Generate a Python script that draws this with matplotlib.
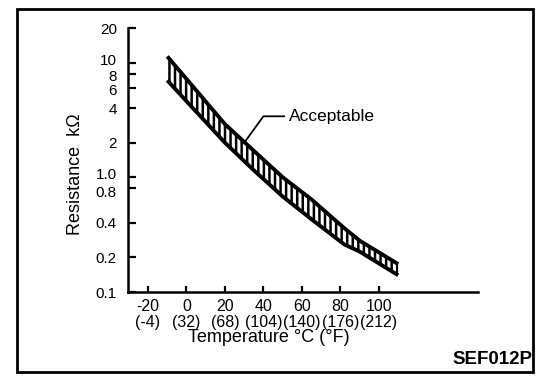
import matplotlib
matplotlib.use('Agg')
import matplotlib.pyplot as plt
from matplotlib.patches import Rectangle
from matplotlib.transforms import ScaledTranslation

# acceptable resistance band of the sensor
temp_c = [-10, 0, 20, 35, 50, 65, 82, 90, 110]
r_upper = [11.3, 7.2, 2.9, 1.7, 1.0, 0.64, 0.36, 0.28, 0.175]
r_lower = [7.0, 4.6, 2.0, 1.15, 0.68, 0.43, 0.26, 0.225, 0.14]

x_ticks = [-20, 0, 20, 40, 60, 80, 100]
x_labels = ['-20\n(-4)', '0\n(32)', '20\n(68)', '40\n(104)', '60\n(140)', '80\n(176)', '100\n(212)']
y_ticks = [0.1, 0.2, 0.4, 0.8, 1.0, 2, 4, 6, 8, 10, 20]
y_labels = ['0.1', '0.2', '0.4', '0.8', '1.0', '2', '4', '6', '8', '10', '20']
# small vertical nudges (points) so the crowded labels stack like the print
y_nudge = {'10': 2, '8': -1, '6': -1, '1.0': 2.5, '0.8': -2.5}

plt.rcParams['font.family'] = ['Liberation Sans', 'DejaVu Sans']
plt.rcParams['hatch.linewidth'] = 1.8

fig = plt.figure(figsize=(5.6, 3.82), dpi=100)
fig.patch.set_facecolor('white')

# outer frame
fig.patches.append(Rectangle((17/560, 1-372/382), (533-17)/560, (372-9)/382,
                             transform=fig.transFigure, fill=False, lw=2.0, ec='black'))

ax = fig.add_axes([128/560, 1-292/382, 350/560, 264/382])
ax.set_yscale('log')
ax.set_xlim(-30.4, 151.5)
ax.set_ylim(0.1, 20)

ax.fill_between(temp_c, r_lower, r_upper, facecolor='white', edgecolor='black',
                hatch='|||', lw=0)
ax.plot(temp_c, r_upper, color='black', lw=2.8, solid_capstyle='butt')
ax.plot(temp_c, r_lower, color='black', lw=2.8, solid_capstyle='butt')

ax.annotate('Acceptable', xy=(30, 2.0), xytext=(53, 3.4), fontsize=12.5,
            ha='left', va='center',
            arrowprops=dict(arrowstyle='-', lw=1.3, color='black', relpos=(0, 0.5),
                            shrinkA=1, shrinkB=0,
                            connectionstyle='angle,angleA=0,angleB=54,rad=0'))

for s in ['top', 'right']:
    ax.spines[s].set_visible(False)
for s in ['left', 'bottom']:
    ax.spines[s].set_linewidth(1.8)

ax.set_yticks(y_ticks)
ax.set_yticklabels(y_labels)
ax.yaxis.set_minor_locator(matplotlib.ticker.NullLocator())
ax.set_xticks(x_ticks)
ax.set_xticklabels(x_labels, linespacing=1.05)
ax.tick_params(axis='y', direction='in', length=6, width=1.6, pad=8, labelsize=11)
ax.tick_params(axis='x', direction='in', length=4, width=1.6, pad=5, labelsize=11.5)

for lab in ax.get_yticklabels():
    dy = y_nudge.get(lab.get_text(), 0)
    if dy:
        lab.set_transform(lab.get_transform() + ScaledTranslation(0, dy/72, fig.dpi_scale_trans))

fig.text(269/560, 1-337/382, 'Temperature °C (°F)', fontsize=13, ha='center', va='center')
fig.text(75/560, 1-174/382, 'Resistance  kΩ', fontsize=13, ha='center', va='center',
         rotation=90)
fig.text(532/560, 1-360/382, 'SEF012P', fontsize=13.5, fontweight='bold',
         ha='right', va='center')

plt.savefig('out.png', dpi=100)
